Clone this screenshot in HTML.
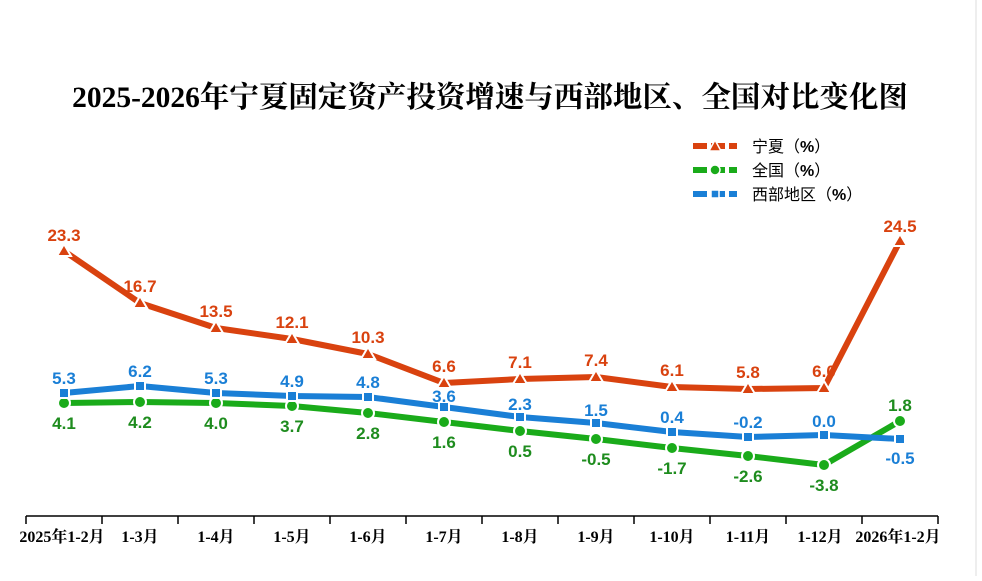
<!DOCTYPE html>
<html><head><meta charset="utf-8"><style>
body{margin:0;background:#fff;width:982px;height:576px;overflow:hidden}
</style></head><body>
<svg width="982" height="576" xmlns="http://www.w3.org/2000/svg">
<line x1="976" y1="0" x2="976" y2="576" stroke="#ddd" stroke-width="1"/>
<text x="490" y="107" text-anchor="middle" font-family="'Liberation Serif','Noto Serif CJK SC',serif" font-weight="bold" font-size="29.5" fill="#000">2025-2026年宁夏固定资产投资增速与西部地区、全国对比变化图</text>
<g font-family="'Liberation Sans','Noto Sans CJK SC',sans-serif" font-size="16" fill="#000">
<line x1="693" y1="146" x2="737" y2="146" stroke="#d9420f" stroke-width="6" stroke-dasharray="14,4"/>
<polygon points="715,140 721,151 709,151" fill="#d9420f" stroke="#fff" stroke-width="1.5"/>
<text x="752" y="152">宁夏（<tspan font-weight="bold">%</tspan>）</text>
<line x1="693" y1="170" x2="737" y2="170" stroke="#1aab1a" stroke-width="6" stroke-dasharray="14,4"/>
<circle cx="715" cy="170" r="5" fill="#1aab1a" stroke="#fff" stroke-width="1.5"/>
<text x="752" y="176">全国（<tspan font-weight="bold">%</tspan>）</text>
<line x1="693" y1="194" x2="737" y2="194" stroke="#1a7fd6" stroke-width="6" stroke-dasharray="14,4"/>
<rect x="711" y="190" width="8" height="8" fill="#1a7fd6" stroke="#fff" stroke-width="1.5"/>
<text x="752" y="200">西部地区（<tspan font-weight="bold">%</tspan>）</text>
</g>
<line x1="26" y1="516" x2="938" y2="516" stroke="#000" stroke-width="1.5"/>
<g stroke="#000" stroke-width="1.5">
<line x1="26" y1="516" x2="26" y2="524"/><line x1="102" y1="516" x2="102" y2="524"/><line x1="178" y1="516" x2="178" y2="524"/><line x1="254" y1="516" x2="254" y2="524"/><line x1="330" y1="516" x2="330" y2="524"/><line x1="406" y1="516" x2="406" y2="524"/><line x1="482" y1="516" x2="482" y2="524"/><line x1="558" y1="516" x2="558" y2="524"/><line x1="634" y1="516" x2="634" y2="524"/><line x1="710" y1="516" x2="710" y2="524"/><line x1="786" y1="516" x2="786" y2="524"/><line x1="862" y1="516" x2="862" y2="524"/><line x1="938" y1="516" x2="938" y2="524"/>
</g>
<g font-family="'Liberation Serif','Noto Serif CJK SC',serif" font-weight="bold" font-size="16" fill="#000" text-anchor="middle">
<text x="62" y="542">2025年1-2月</text><text x="140" y="542">1-3月</text><text x="216" y="542">1-4月</text><text x="292" y="542">1-5月</text><text x="368" y="542">1-6月</text><text x="444" y="542">1-7月</text><text x="520" y="542">1-8月</text><text x="596" y="542">1-9月</text><text x="672" y="542">1-10月</text><text x="748" y="542">1-11月</text><text x="820" y="542">1-12月</text><text x="898" y="542">2026年1-2月</text>
</g>
<polyline fill="none" stroke="#1aab1a" stroke-width="6" stroke-linejoin="round" points="64,403 140,402 216,403 292,406 368,413 444,422 520,431 596,439 672,448 748,456 824,465 900,421"/>
<polyline fill="none" stroke="#1a7fd6" stroke-width="6" stroke-linejoin="round" points="64,393 140,386 216,393 292,396 368,397 444,407 520,417 596,423 672,432 748,437 824,435 900,439"/>
<polyline fill="none" stroke="#d9420f" stroke-width="6" stroke-linejoin="round" points="64,251 140,303 216,328 292,339 368,354 444,383 520,379 596,377 672,387 748,389 824,388 900,241"/>
<g fill="#1aab1a" stroke="#fff" stroke-width="2">
<circle cx="64" cy="403" r="6"/><circle cx="140" cy="402" r="6"/><circle cx="216" cy="403" r="6"/><circle cx="292" cy="406" r="6"/><circle cx="368" cy="413" r="6"/><circle cx="444" cy="422" r="6"/><circle cx="520" cy="431" r="6"/><circle cx="596" cy="439" r="6"/><circle cx="672" cy="448" r="6"/><circle cx="748" cy="456" r="6"/><circle cx="824" cy="465" r="6"/><circle cx="900" cy="421" r="6"/>
</g>
<g fill="#1a7fd6" stroke="#fff" stroke-width="2">
<rect x="59" y="388" width="10" height="10"/><rect x="135" y="381" width="10" height="10"/><rect x="211" y="388" width="10" height="10"/><rect x="287" y="391" width="10" height="10"/><rect x="363" y="392" width="10" height="10"/><rect x="439" y="402" width="10" height="10"/><rect x="515" y="412" width="10" height="10"/><rect x="591" y="418" width="10" height="10"/><rect x="667" y="427" width="10" height="10"/><rect x="743" y="432" width="10" height="10"/><rect x="819" y="430" width="10" height="10"/><rect x="895" y="434" width="10" height="10"/>
</g>
<g fill="#d9420f" stroke="#fff" stroke-width="2">
<polygon points="64,244 71,256 57,256"/><polygon points="140,296 147,308 133,308"/><polygon points="216,321 223,333 209,333"/><polygon points="292,332 299,344 285,344"/><polygon points="368,347 375,359 361,359"/><polygon points="444,376 451,388 437,388"/><polygon points="520,372 527,384 513,384"/><polygon points="596,370 603,382 589,382"/><polygon points="672,380 679,392 665,392"/><polygon points="748,382 755,394 741,394"/><polygon points="824,381 831,393 817,393"/><polygon points="900,234 907,246 893,246"/>
</g>
<g font-family="'Liberation Sans',sans-serif" font-weight="bold" font-size="17" text-anchor="middle">
<g fill="#d9420f">
<text x="64" y="241">23.3</text><text x="140" y="292">16.7</text><text x="216" y="317">13.5</text><text x="292" y="328">12.1</text><text x="368" y="343">10.3</text><text x="444" y="372">6.6</text><text x="520" y="368">7.1</text><text x="596" y="366">7.4</text><text x="672" y="376">6.1</text><text x="748" y="378">5.8</text><text x="824" y="377">6.0</text><text x="900" y="232">24.5</text>
</g>
<g fill="#1a7fd6">
<text x="64" y="384">5.3</text><text x="140" y="377">6.2</text><text x="216" y="384">5.3</text><text x="292" y="387">4.9</text><text x="368" y="388">4.8</text><text x="444" y="402">3.6</text><text x="520" y="410">2.3</text><text x="596" y="416">1.5</text><text x="672" y="423">0.4</text><text x="748" y="428">-0.2</text><text x="824" y="427">0.0</text><text x="900" y="464">-0.5</text>
</g>
<g fill="#1e8c1e">
<text x="64" y="429">4.1</text><text x="140" y="428">4.2</text><text x="216" y="429">4.0</text><text x="292" y="432">3.7</text><text x="368" y="439">2.8</text><text x="444" y="448">1.6</text><text x="520" y="457">0.5</text><text x="596" y="465">-0.5</text><text x="672" y="474">-1.7</text><text x="748" y="482">-2.6</text><text x="824" y="491">-3.8</text><text x="900" y="411">1.8</text>
</g>
</g>
</svg>
</body></html>
